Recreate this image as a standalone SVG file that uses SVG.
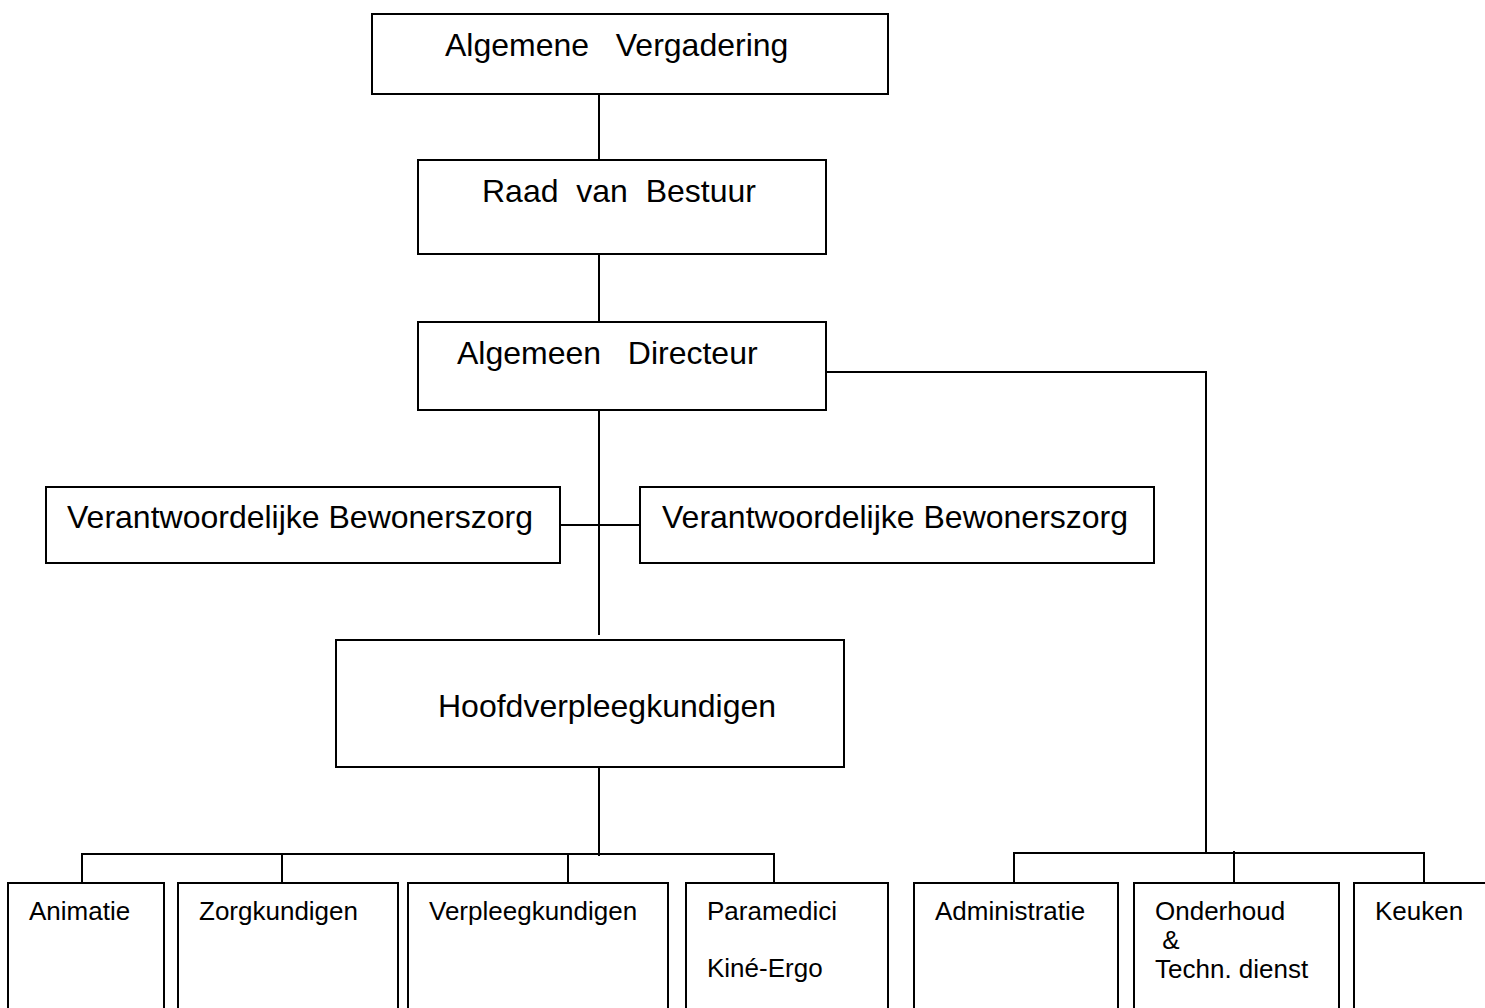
<svg xmlns="http://www.w3.org/2000/svg" width="1485" height="1008" viewBox="0 0 1485 1008">
<style>
.box{fill:#fff;stroke:#000;stroke-width:2}
.ln{fill:none;stroke:#000;stroke-width:2}
.t{font-family:"Liberation Sans",Arial,sans-serif;font-size:32px;fill:#000;white-space:pre}
.s{font-family:"Liberation Sans",Arial,sans-serif;font-size:26px;fill:#000;white-space:pre}
</style>
<rect width="1485" height="1008" fill="#fff"/>
<g id="connectors">
<path class="ln" d="M599 94V160"/>
<path class="ln" d="M599 254V322"/>
<path class="ln" d="M599 410V635"/>
<path class="ln" d="M560 525H640"/>
<path class="ln" d="M826 372H1206V853"/>
<path class="ln" d="M599 767V856"/>
<path class="ln" d="M82 883V854H774V883"/>
<path class="ln" d="M282 854V883M568 854V883"/>
<path class="ln" d="M1014 883V853H1424V883"/>
<path class="ln" d="M1234 851V883"/>
</g>
<g id="n-av"><rect class="box" x="372" y="14" width="516" height="80"/><text class="t" x="445" y="56">Algemene   Vergadering</text></g>
<g id="n-rvb"><rect class="box" x="418" y="160" width="408" height="94"/><text class="t" x="482" y="202">Raad  van  Bestuur</text></g>
<g id="n-ad"><rect class="box" x="418" y="322" width="408" height="88"/><text class="t" x="457" y="364">Algemeen   Directeur</text></g>
<g id="n-vb1"><rect class="box" x="46" y="487" width="514" height="76"/><text class="t" x="67" y="528">Verantwoordelijke Bewonerszorg</text></g>
<g id="n-vb2"><rect class="box" x="640" y="487" width="514" height="76"/><text class="t" x="662" y="528">Verantwoordelijke Bewonerszorg</text></g>
<g id="n-hvk"><rect class="box" x="336" y="640" width="508" height="127"/><text class="t" x="438" y="717">Hoofdverpleegkundigen</text></g>
<g id="n-anim"><rect class="box" x="8" y="883" width="156" height="140"/><text class="s" x="29" y="920">Animatie</text></g>
<g id="n-zorg"><rect class="box" x="178" y="883" width="220" height="140"/><text class="s" x="199" y="920">Zorgkundigen</text></g>
<g id="n-verpl"><rect class="box" x="408" y="883" width="260" height="140"/><text class="s" x="429" y="920">Verpleegkundigen</text></g>
<g id="n-para"><rect class="box" x="686" y="883" width="202" height="140"/><text class="s" x="707" y="920">Paramedici</text><text class="s" x="707" y="977">Kiné-Ergo</text></g>
<g id="n-adm"><rect class="box" x="914" y="883" width="204" height="140"/><text class="s" x="935" y="920">Administratie</text></g>
<g id="n-ond"><rect class="box" x="1134" y="883" width="205" height="140"/><text class="s" x="1155" y="920">Onderhoud</text><text class="s" x="1155" y="949"> &amp;</text><text class="s" x="1155" y="978">Techn. dienst</text></g>
<g id="n-keuk"><rect class="box" x="1354" y="883" width="150" height="140"/><text class="s" x="1375" y="920">Keuken</text></g>
</svg>
